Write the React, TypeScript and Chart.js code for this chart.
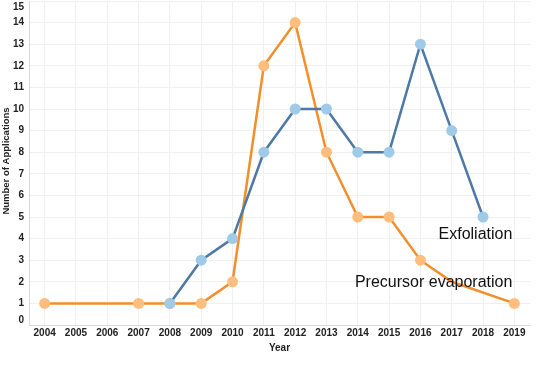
import React, { useEffect, useRef } from 'react';
import { Chart, registerables } from 'chart.js';

Chart.register(...registerables);

const years = ['2004', '2005', '2006', '2007', '2008', '2009', '2010', '2011', '2012', '2013', '2014', '2015', '2016', '2017', '2018', '2019'];
const exfoliation = [null, null, null, null, 1, 3, 4, 8, 10, 10, 8, 8, 13, 9, 5, null];
const precursor = [1, null, null, 1, 1, 1, 2, 12, 14, 8, 5, 5, 3, 2, null, 1];
const precursorShowPoint = [true, false, false, true, true, true, true, true, true, true, true, true, true, false, false, true];
const yTickValues = [0, 1, 2, 3, 4, 5, 6, 7, 8, 9, 10, 11, 12, 13, 14, 15];
const seriesLabels = ['Exfoliation', 'Precursor evaporation'];
const labelAnchors = [
  { text: 'Exfoliation', yValue: 4 },
  { text: 'Precursor evaporation', yValue: 1.75 },
];

const FONT = "Arial, 'Liberation Sans', sans-serif";

const overlayPlugin = {
  id: 'overlay',
  afterDraw(chart: any) {
    const ctx = chart.ctx;
    const y = chart.scales.y;
    const x = chart.scales.x;
    const area = chart.chartArea;
    ctx.save();
    ctx.font = `bold 10px ${FONT}`;
    ctx.fillStyle = '#222';
    ctx.textAlign = 'right';
    ctx.textBaseline = 'middle';
    yTickValues.forEach((v) => {
      let py = y.getPixelForValue(v);
      py = Math.min(Math.max(py, area.top + 6), area.bottom - 5);
      ctx.fillText(String(v), area.left - 5, py);
    });
    ctx.save();
    ctx.translate(6, (area.top + area.bottom) / 2 - 2);
    ctx.rotate(-Math.PI / 2);
    ctx.textAlign = 'center';
    ctx.textBaseline = 'middle';
    ctx.font = `bold 9.5px ${FONT}`;
    ctx.fillText('Number of Applications', 0, 0);
    ctx.restore();
    ctx.font = `16px ${FONT}`;
    ctx.fillStyle = '#111';
    ctx.textAlign = 'right';
    ctx.textBaseline = 'alphabetic';
    const rightX = x.getPixelForValue(years.length - 1) - 2;
    labelAnchors.forEach((a) => {
      ctx.fillText(a.text, rightX, y.getPixelForValue(a.yValue));
    });
    ctx.restore();
  },
};

export default function App() {
  const ref = useRef<HTMLCanvasElement>(null);
  useEffect(() => {
    if (!ref.current) return;
    const chart = new Chart(ref.current, {
      type: 'line',
      data: {
        labels: years,
        datasets: [
          {
            label: seriesLabels[0],
            data: exfoliation as any,
            borderColor: '#4E79A7',
            backgroundColor: '#A0CBE8',
            pointBackgroundColor: '#A0CBE8',
            pointBorderWidth: 0,
            pointRadius: 5.5,
            borderWidth: 2.5,
            spanGaps: false,
            tension: 0,
          },
          {
            label: seriesLabels[1],
            data: precursor as any,
            borderColor: '#F28E2B',
            backgroundColor: '#FFBE7D',
            pointBackgroundColor: '#FFBE7D',
            pointBorderWidth: 0,
            pointRadius: precursorShowPoint.map((s) => (s ? 5.5 : 0)),
            borderWidth: 2.5,
            spanGaps: true,
            tension: 0,
          },
        ],
      },
      options: {
        animation: false,
        responsive: false,
        maintainAspectRatio: false,
        layout: { autoPadding: false, padding: { left: 0, right: 6, top: 1, bottom: 18 } },
        plugins: { legend: { display: false }, tooltip: { enabled: false } },
        scales: {
          x: {
            offset: true,
            grid: { offset: false, color: '#f0f0f0', drawTicks: false, lineWidth: 1 },
            border: { color: '#d9d9d9', width: 1 },
            ticks: { font: { family: FONT, size: 10, weight: 'bold' }, color: '#222', padding: 2, maxRotation: 0, autoSkip: false },
            title: { display: true, text: 'Year', font: { family: FONT, size: 10, weight: 'bold' }, color: '#222', padding: { top: 4, bottom: 4 } },
            afterFit: (s: any) => { s.height = 33; },
          },
          y: {
            min: 0,
            max: 15,
            grid: { color: '#f0f0f0', drawTicks: false },
            border: { color: '#d9d9d9', width: 1 },
            ticks: { display: false, stepSize: 1 },
            afterFit: (s: any) => { s.width = 29; },
          },
        },
      } as any,
      plugins: [overlayPlugin],
    });
    return () => chart.destroy();
  }, []);
  return (
    <div style={{ position: 'fixed', left: 0, top: 0, width: 536, height: 376, background: '#fff' }}>
      <canvas ref={ref} width={536} height={376} style={{ width: 536, height: 376 }} />
    </div>
  );
}
